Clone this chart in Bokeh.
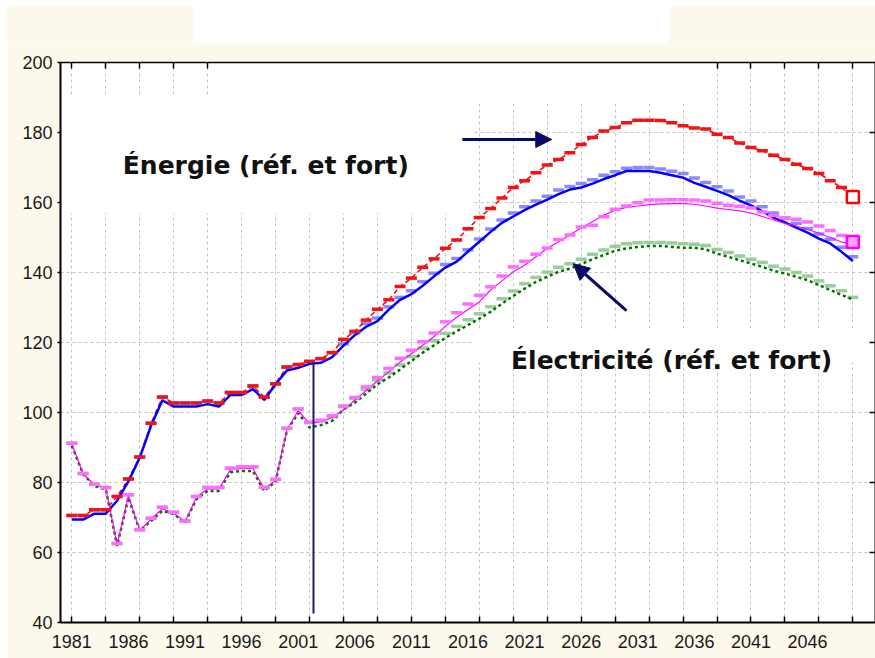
from bokeh.plotting import figure
from bokeh.models import (Range1d, LinearAxis, FixedTicker, BoxAnnotation, Label,
                          Arrow, NormalHead, Div, Spacer)
from bokeh.layouts import column, row
from bokeh.embed import file_html
from bokeh.resources import INLINE

# ---------------- data ----------------
years = list(range(1981, 2051))

energie_fort = [70.6, 70.6, 72.2, 72.2, 76.0, 81.0, 87.3, 96.9, 104.4, 102.7,
                102.7, 102.7, 103.3, 102.7, 105.7, 105.7, 107.6, 104.4, 108.2, 113.0,
                113.7, 114.6, 115.4, 117.1, 120.9, 123.2, 126.4, 129.5, 132.2, 136.0,
                138.4, 141.5, 143.9, 146.9, 149.3, 152.5, 155.7, 158.3, 161.3, 164.3,
                166.2, 168.5, 170.7, 172.3, 174.2, 176.6, 178.6, 180.4, 181.4, 182.8,
                183.5, 183.5, 183.4, 182.8, 181.9, 181.3, 181.0, 179.5, 178.6, 177.0,
                175.7, 174.8, 173.5, 172.3, 170.9, 169.7, 168.3, 166.2, 164.3, 161.6]

energie_ref = [69.4, 69.4, 71.1, 71.1, 74.8, 80.3, 87.1, 96.2, 103.5, 101.7,
               101.7, 101.7, 102.4, 101.7, 105.0, 105.0, 106.7, 103.6, 108.1, 112.0,
               112.8, 113.9, 114.2, 115.8, 119.1, 122.1, 124.5, 126.1, 129.4, 132.2,
               133.8, 136.2, 138.9, 141.4, 143.1, 146.0, 148.8, 151.6, 154.2, 156.0,
               157.8, 159.4, 160.8, 162.4, 163.7, 164.3, 165.4, 166.7, 167.8, 169.0,
               169.0, 169.0, 168.5, 167.8, 167.1, 165.6, 164.5, 163.3, 162.1, 160.5,
               159.2, 157.5, 155.7, 154.3, 152.8, 151.4, 149.7, 148.3, 145.9, 143.3]

energie_ref_pts = [70.6, 70.6, 72.2, 72.2, 76.0, 81.0, 87.3, 96.9, 104.4, 102.7,
                   102.7, 102.7, 103.3, 102.7, 105.7, 105.7, 107.6, 104.4, 108.2, 113.0,
                   113.7, 114.6, 115.4, 117.1, 119.6, 122.8, 125.4, 127.0, 130.2, 132.9,
                   134.8, 137.4, 139.8, 142.3, 144.0, 146.5, 149.6, 152.4, 155.0, 157.0,
                   158.8, 160.4, 161.8, 163.6, 164.6, 165.4, 166.5, 167.8, 168.8, 169.8,
                   170.0, 170.0, 169.6, 168.9, 168.3, 167.0, 165.7, 164.5, 163.3, 161.6,
                   160.4, 158.8, 157.0, 155.6, 154.1, 152.6, 151.0, 149.5, 147.2, 144.5]

elec_fort_pts = [91.2, 82.6, 79.5, 78.6, 62.6, 76.5, 66.5, 69.8, 72.9, 71.5,
                 69.0, 76.0, 78.6, 78.6, 84.1, 84.5, 84.5, 78.6, 80.9, 95.5,
                 101.0, 97.2, 97.8, 99.1, 101.7, 104.3, 107.3, 110.0, 112.6, 115.5,
                 117.8, 120.2, 122.7, 125.9, 128.5, 131.0, 133.5, 135.9, 139.0, 141.6,
                 143.2, 145.2, 147.0, 149.4, 150.7, 153.0, 153.5, 155.9, 158.1, 159.0,
                 159.9, 160.7, 160.7, 160.8, 160.8, 160.7, 160.4, 159.8, 159.2, 158.9,
                 158.4, 157.3, 156.3, 155.6, 155.2, 154.4, 153.3, 152.0, 150.6, 148.7]

elec_fort = [91.0, 82.5, 79.3, 78.4, 62.3, 76.2, 66.3, 69.5, 72.5, 71.3,
             68.8, 75.7, 78.2, 78.2, 83.6, 84.0, 84.0, 78.2, 80.6, 95.0,
             100.5, 96.8, 97.4, 98.5, 100.8, 103.5, 106.3, 109.0, 111.6, 114.4,
             116.8, 119.2, 121.7, 124.6, 127.2, 129.4, 131.6, 135.0, 137.6, 140.2,
             142.1, 144.5, 146.9, 148.8, 150.7, 152.8, 154.5, 156.4, 157.8, 158.6,
             159.0, 159.4, 159.6, 159.7, 159.7, 159.5, 159.0, 158.4, 158.0, 157.6,
             157.0, 156.0, 155.0, 154.0, 153.3, 152.3, 151.3, 150.0, 148.7, 148.0]

elec_ref = [90.5, 82.4, 79.0, 78.1, 61.9, 75.7, 66.2, 69.0, 71.9, 71.0,
            68.6, 75.2, 77.6, 77.6, 82.9, 83.3, 83.3, 77.6, 80.3, 94.8,
            99.8, 95.7, 96.4, 97.6, 100.9, 102.8, 105.4, 108.1, 110.0, 112.3,
            114.7, 117.1, 119.2, 121.3, 123.2, 125.0, 126.8, 128.8, 131.1, 133.3,
            135.4, 137.3, 138.8, 140.2, 141.1, 142.4, 143.8, 145.0, 146.2, 146.9,
            147.3, 147.6, 147.6, 147.3, 147.1, 147.1, 146.6, 145.4, 144.5, 143.5,
            142.6, 141.6, 140.5, 139.7, 138.8, 137.8, 136.4, 135.0, 133.6, 132.3]

elec_ref_pts = [91.2, 82.6, 79.5, 78.6, 62.6, 76.5, 66.5, 69.8, 72.9, 71.5,
                69.0, 76.0, 78.6, 78.6, 84.1, 84.5, 84.5, 78.6, 80.9, 95.5,
                101.0, 97.2, 97.6, 98.8, 101.9, 104.0, 106.6, 109.3, 111.3, 113.6,
                116.0, 118.4, 120.5, 122.6, 124.6, 126.5, 128.2, 130.2, 132.5, 134.7,
                136.8, 138.6, 140.1, 141.5, 142.5, 143.8, 145.2, 146.4, 147.5, 148.2,
                148.5, 148.6, 148.6, 148.4, 148.2, 148.1, 147.7, 146.6, 145.7, 144.7,
                143.8, 142.9, 141.8, 141.0, 140.0, 139.0, 137.6, 136.2, 134.8, 132.9]

x_label_years = list(range(1981, 2047, 5))
x_tick_years = list(range(1981, 2051, 3))
top_tick_years = [1981, 1984, 1987, 1990, 1993, 2038, 2041, 2044, 2047, 2050]
y_ticks = list(range(40, 201, 20))
right_ticks = list(range(60, 181, 20))

label_energie = "Énergie (réf. et fort)"
label_elec = "Électricité (réf. et fort)"

# ---------------- style ----------------
CREAM = "#fdf8ec"
NAVY = "#0a0a66"
FONT = "Liberation Sans"
BOLD_FONT = "DejaVu Sans"
BAND_H = 44

p = figure(width=868, height=658 - BAND_H, x_range=Range1d(1980, 2052), y_range=Range1d(40, 200),
           x_axis_location=None, y_axis_location=None,
           output_backend="svg", toolbar_location=None,
           min_border_left=53, min_border_right=0, min_border_top=62 - BAND_H,
           min_border_bottom=36,
           background_fill_color="white", border_fill_color=CREAM, outline_line_color=None,
           margin=0)

p.xgrid.ticker = FixedTicker(ticks=x_tick_years)
p.ygrid.ticker = FixedTicker(ticks=y_ticks)
for g in (p.xgrid, p.ygrid):
    g.grid_line_color = "#c4c4c4"
    g.grid_line_dash = "3 3"
    g.grid_line_width = 1


def tick_axis(ticks, lw):
    return LinearAxis(ticker=FixedTicker(ticks=ticks), major_tick_in=6, major_tick_out=0,
                      major_label_text_font_size="1px", major_label_text_color=None,
                      major_label_standoff=0,
                      axis_line_width=lw, axis_line_color="black",
                      major_tick_line_color="black", major_tick_line_width=1.5,
                      minor_tick_line_color=None)


p.add_layout(tick_axis(x_tick_years, 2), "below")
ax_lab = LinearAxis(ticker=FixedTicker(ticks=x_label_years), major_tick_line_color=None,
                    minor_tick_line_color=None, axis_line_color=None,
                    major_label_text_font=FONT, major_label_text_font_size="18px",
                    major_label_text_color="#1a1a1a", major_label_standoff=6)
p.add_layout(ax_lab, "below")

ax_left = LinearAxis(ticker=FixedTicker(ticks=y_ticks), major_tick_in=0, major_tick_out=3,
                     minor_tick_line_color=None, axis_line_width=2, major_tick_line_width=1.5,
                     major_label_text_font=FONT, major_label_text_font_size="18px",
                     major_label_text_color="#1a1a1a", major_label_standoff=5)
p.add_layout(ax_left, "left")
p.add_layout(tick_axis(top_tick_years, 1.5), "above")
p.add_layout(tick_axis(right_ticks, 2), "right")

# white areas behind the captions
for (l, r, b, t) in [(1980, 2016.4, 156.9, 190.6), (1995.2, 2037.7, 188.3, 200),
                     (2016.6, 2052, 114.3, 123.4)]:
    p.add_layout(BoxAnnotation(left=l, right=r, bottom=b, top=t, fill_color="white",
                               fill_alpha=1, line_color=None, level="underlay"))

# series
yrs_m = years[:-1]
p.scatter(years, elec_ref_pts, marker="dash", size=11, line_width=3.5, line_color="#9ccc9c")
p.scatter(years, energie_ref_pts, marker="dash", size=11, line_width=3.5, line_color="#8a8aff")
p.line(years, energie_fort, line_color="red", line_width=1.5, line_dash="5 3")
p.line(years, energie_ref, line_color="#0000ff", line_width=2.5)
p.line(years, elec_ref, line_color="#007000", line_width=2.5, line_dash="3 3")
p.line(years, elec_fort, line_color="#ff00ff", line_width=1.2)
p.scatter(yrs_m, energie_fort[:-1], marker="dash", size=11, line_width=3.5, line_color="#f21414")
p.scatter(yrs_m, elec_fort_pts[:-1], marker="dash", size=11, line_width=3.5, line_color="#ff6cff")
p.scatter(years[-1:], energie_fort[-1:], marker="square", size=12, line_width=2.5,
          line_color="red", fill_color="white")
p.scatter(years[-1:], elec_fort_pts[-1:], marker="square", size=12, line_width=2.5,
          line_color="#ff00ff", fill_color="#ffa0ff")

# arrows
p.add_layout(Arrow(end=NormalHead(size=16, fill_color=NAVY, line_color=NAVY),
                   x_start=2015.5, y_start=178.0, x_end=2023.4, y_end=178.0,
                   line_color=NAVY, line_width=3))
p.add_layout(Arrow(end=NormalHead(size=16, fill_color=NAVY, line_color=NAVY),
                   x_start=2030.0, y_start=129.1, x_end=2025.3, y_end=142.5,
                   line_color=NAVY, line_width=3))
p.add_layout(Arrow(end=None, x_start=2002.35, y_start=114.4, x_end=2002.35, y_end=42.6,
                   line_color="#1c1c6b", line_width=2))

# captions
p.add_layout(Label(x=1985.5, y=170.6, text=label_energie, text_font=BOLD_FONT,
                   text_font_style="bold", text_font_size="25px", text_color="#111111",
                   text_baseline="alphabetic"))
p.add_layout(Label(x=2019.8, y=114.9, text=label_elec, text_font=BOLD_FONT,
                   text_font_style="bold", text_font_size="25px", text_color="#111111",
                   text_baseline="alphabetic"))

# band above the chart: cream strip with a white box
top_band = Div(
    text=('<div style="position:relative;width:875px;height:' + str(BAND_H) + 'px;'
          'background:#ffffff;">'
          '<div style="position:absolute;left:7px;top:6px;width:868px;height:'
          + str(BAND_H - 6) + 'px;background:' + CREAM + ';"></div>'
          '<div style="position:absolute;left:193px;top:6px;width:477px;height:37px;'
          'background:#ffffff;"></div></div>'),
    width=875, height=BAND_H, margin=0)

layout = column(top_band, row(Spacer(width=7, height=658 - BAND_H, margin=0), p, spacing=0),
                spacing=0, margin=0)

open("out.html", "w").write(file_html(layout, INLINE))
